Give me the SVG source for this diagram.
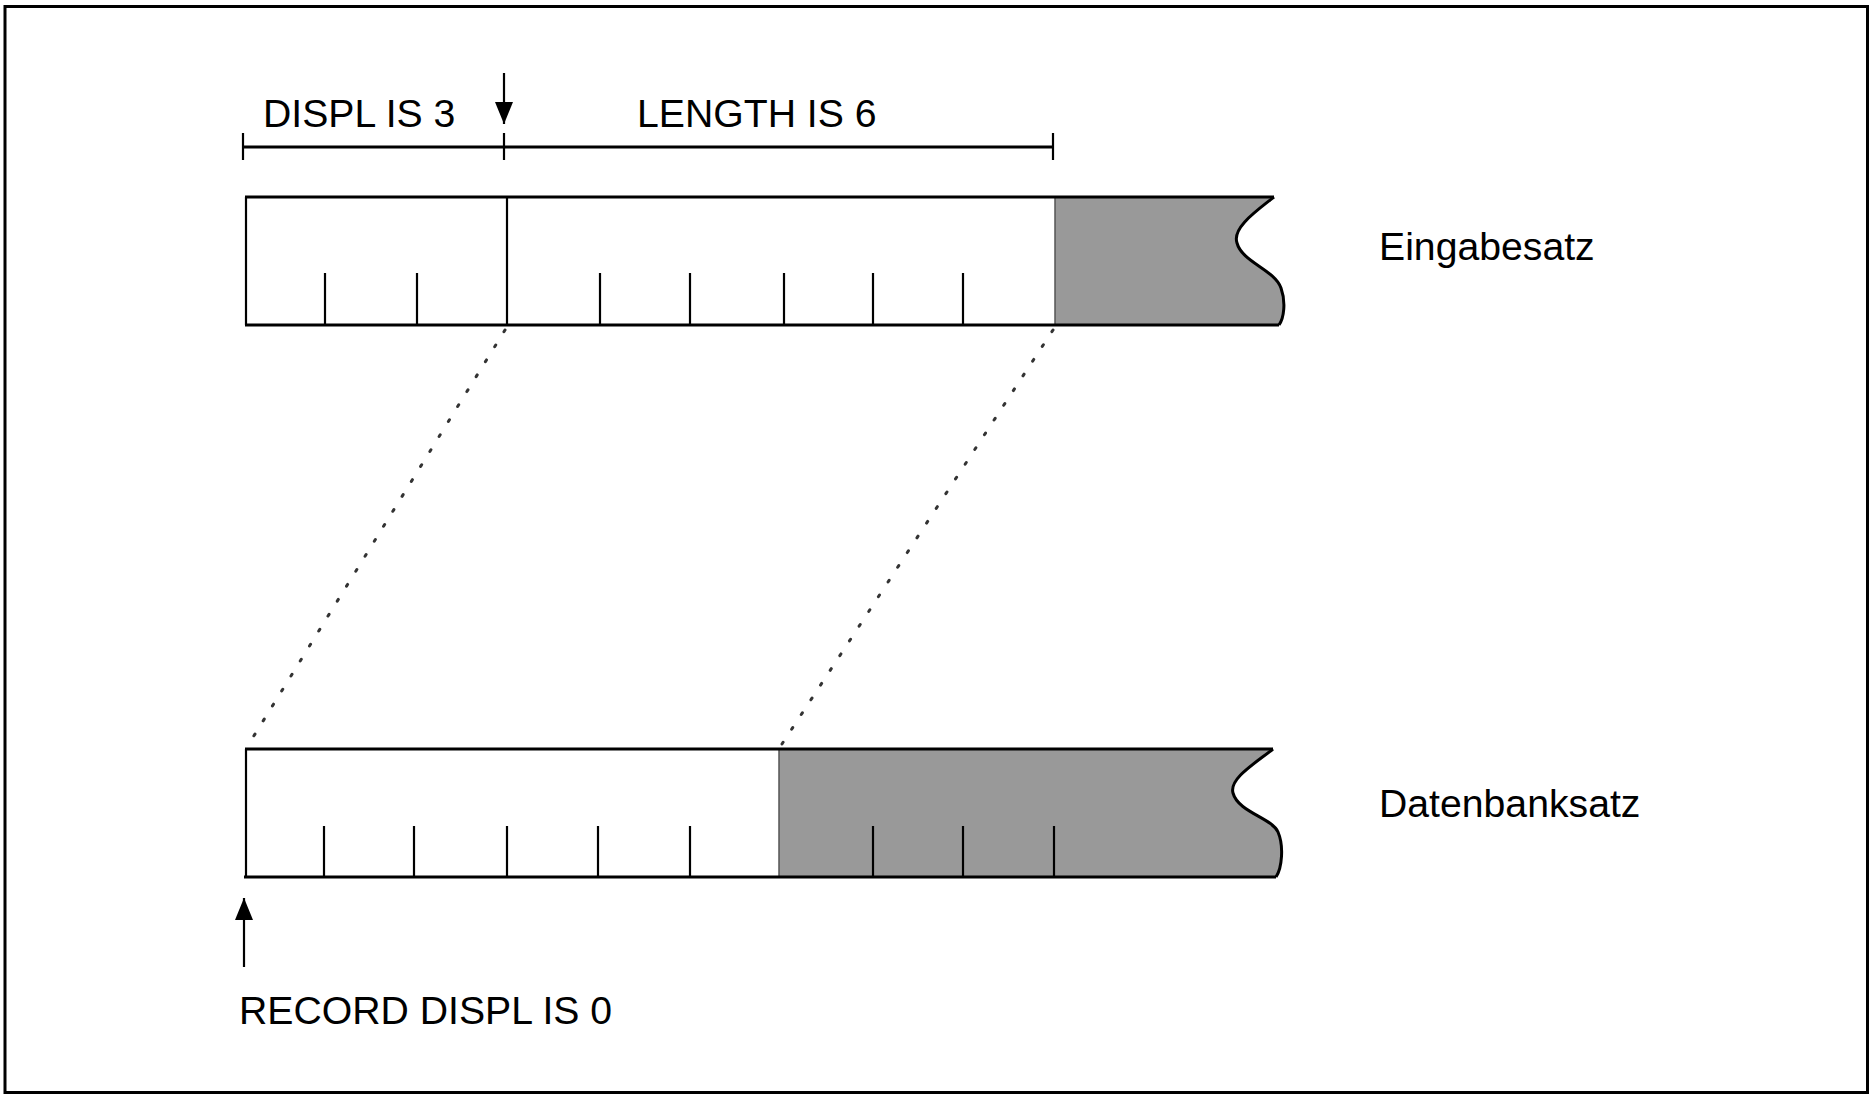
<svg xmlns="http://www.w3.org/2000/svg" width="1876" height="1099" viewBox="0 0 1876 1099">
  <style>
    .ln { stroke: #000; stroke-width: 3; fill: none; }
    .tk { stroke: #000; stroke-width: 2.2; fill: none; }
    .shade { fill: #999999; stroke: none; }
    .dot { stroke: #333; stroke-width: 3; stroke-dasharray: 2 15.6; stroke-linecap: round; fill: none; }
    .txt { font-family: "Liberation Sans", Arial, sans-serif; font-size: 39.2px; fill: #000; }
  </style>
  <defs>
    <marker id="ah" viewBox="0 0 22 18" refX="22" refY="9" markerWidth="22" markerHeight="18" markerUnits="userSpaceOnUse" orient="auto">
      <path d="M0,0 L22,9 L0,18 Z" fill="#000"/>
    </marker>
  </defs>
  <rect x="5" y="6.5" width="1862.5" height="1086" fill="#fff" stroke="#000" stroke-width="3"/>

  <g id="dimension">
    <line class="ln" x1="243" y1="147" x2="1053" y2="147"/>
    <line class="tk" x1="243" y1="133" x2="243" y2="160"/>
    <line class="tk" x1="504" y1="133" x2="504" y2="160"/>
    <line class="tk" x1="1053" y1="133" x2="1053" y2="160"/>
    <text class="txt" x="263" y="127">DISPL IS 3</text>
    <text class="txt" x="637" y="127">LENGTH IS 6</text>
  </g>

  <g id="eingabesatz">
    <path class="shade" d="M1055,197 L1274,197 C1255,212 1232,228 1237,243 C1242,262 1275,270 1281,288 C1286,302 1284,318 1279,325 L1055,325 Z"/>
    <line x1="1055" y1="197" x2="1055" y2="325" stroke="#555" stroke-width="1.5"/>
    <path class="ln" d="M1274,197 C1255,212 1232,228 1237,243 C1242,262 1275,270 1281,288 C1286,302 1284,318 1279,325"/>
    <line class="ln" x1="245" y1="197" x2="1274" y2="197"/>
    <line class="ln" x1="245" y1="325" x2="1279" y2="325"/>
    <line class="tk" x1="246" y1="197" x2="246" y2="325"/>
    <line class="tk" x1="507" y1="197" x2="507" y2="325"/>
    <g class="tk">
      <line x1="325" y1="273" x2="325" y2="325"/>
      <line x1="417" y1="273" x2="417" y2="325"/>
      <line x1="600" y1="273" x2="600" y2="325"/>
      <line x1="690" y1="273" x2="690" y2="325"/>
      <line x1="784" y1="273" x2="784" y2="325"/>
      <line x1="873" y1="273" x2="873" y2="325"/>
      <line x1="963" y1="273" x2="963" y2="325"/>
    </g>
    <text class="txt" x="1379" y="260">Eingabesatz</text>
  </g>

  <g id="datenbanksatz">
    <path class="shade" d="M779,749 L1273,749 C1254,764 1229,779 1233,793 C1238,812 1272,818 1278,832 C1284,846 1282,868 1276,877 L779,877 Z"/>
    <line x1="779" y1="749" x2="779" y2="877" stroke="#555" stroke-width="1.5"/>
    <path class="ln" d="M1273,749 C1254,764 1229,779 1233,793 C1238,812 1272,818 1278,832 C1284,846 1282,868 1276,877"/>
    <line class="ln" x1="245" y1="749" x2="1273" y2="749"/>
    <line class="ln" x1="244" y1="877" x2="1276" y2="877"/>
    <line class="tk" x1="246" y1="749" x2="246" y2="877"/>
    <g class="tk">
      <line x1="324" y1="826" x2="324" y2="877"/>
      <line x1="414" y1="826" x2="414" y2="877"/>
      <line x1="507" y1="826" x2="507" y2="877"/>
      <line x1="598" y1="826" x2="598" y2="877"/>
      <line x1="690" y1="826" x2="690" y2="877"/>
      <line x1="873" y1="826" x2="873" y2="877"/>
      <line x1="963" y1="826" x2="963" y2="877"/>
      <line x1="1054" y1="826" x2="1054" y2="877"/>
    </g>
    <text class="txt" x="1379" y="817">Datenbanksatz</text>
  </g>

  <g id="record-displ">
    <text class="txt" x="239" y="1024">RECORD DISPL IS 0</text>
  </g>

  <g id="connectors">
    <line class="dot" x1="505" y1="330" x2="247" y2="747"/>
    <line class="dot" x1="1053" y1="330" x2="780" y2="747"/>
    <line class="tk" x1="504" y1="73" x2="504" y2="124" marker-end="url(#ah)"/>
    <line class="tk" x1="244" y1="967" x2="244" y2="898" marker-end="url(#ah)"/>
  </g>
</svg>
